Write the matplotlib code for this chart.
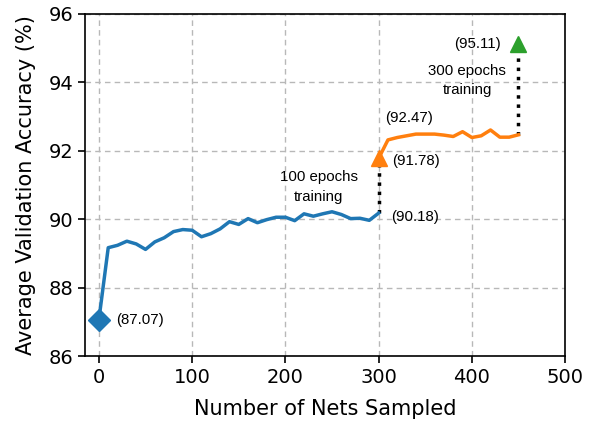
import matplotlib
matplotlib.use("Agg")
import matplotlib.pyplot as plt

blue_x = list(range(0, 301, 10))
blue_y = [87.07, 89.17, 89.24, 89.36, 89.28, 89.12, 89.34, 89.46, 89.64, 89.70,
          89.68, 89.49, 89.58, 89.72, 89.93, 89.85, 90.02, 89.90, 89.99, 90.06,
          90.06, 89.96, 90.16, 90.09, 90.16, 90.22, 90.14, 90.02, 90.03, 89.97,
          90.18]
orange_x = list(range(300, 451, 10))
orange_y = [91.78, 92.32, 92.39, 92.44, 92.49, 92.49, 92.49, 92.46, 92.42, 92.56,
            92.39, 92.44, 92.61, 92.40, 92.40, 92.47]
final_x = 450
final_y = 95.11

xticks = [0, 100, 200, 300, 400, 500]
yticks = [86, 88, 90, 92, 94, 96]

blue = "#1f77b4"
orange = "#ff7f0e"
green = "#2ca02c"

fig = plt.figure(figsize=(5.98, 4.24), dpi=100)
ax = fig.add_axes([0.142, 0.160, 0.803, 0.807])

ax.plot(blue_x, blue_y, color=blue, lw=2.5, zorder=3)
ax.plot(orange_x, orange_y, color=orange, lw=2.5, zorder=3)
ax.plot([blue_x[-1], orange_x[0]], [blue_y[-1], orange_y[0]], color="black", lw=2.5, ls=":", zorder=2)
ax.plot([orange_x[-1], final_x], [orange_y[-1], final_y], color="black", lw=2.5, ls=":", zorder=2)

ax.plot([blue_x[0]], [blue_y[0]], marker="D", color=blue, ms=11, zorder=4, clip_on=False)
ax.plot([orange_x[0]], [orange_y[0]], marker="^", color=orange, ms=11, zorder=4)
ax.plot([final_x], [final_y], marker="^", color=green, ms=11, zorder=4)

af = dict(family=["Liberation Sans", "DejaVu Sans"], fontsize=10.8)
ax.text(19, blue_y[0], f"({blue_y[0]:.2f})", ha="left", va="center", **af)
ax.text(313, 90.06, f"({blue_y[-1]:.2f})", ha="left", va="center", **af)
ax.text(314, 91.70, f"({orange_y[0]:.2f})", ha="left", va="center", **af)
ax.text(333, 92.96, f"({orange_y[-1]:.2f})", ha="center", va="center", **af)
ax.text(431, 95.11, f"({final_y:.2f})", ha="right", va="center", **af)
ax.text(236, 90.95, "100 epochs\ntraining", ha="center", va="center", linespacing=1.5, **af)
ax.text(395, 94.05, "300 epochs\ntraining", ha="center", va="center", linespacing=1.5, **af)

ax.set_xlim(-15, 500)
ax.set_ylim(86, 96)
ax.set_xticks(xticks)
ax.set_yticks(yticks)
ax.tick_params(labelsize=14, width=1.2, length=5)
ax.set_xlabel("Number of Nets Sampled", fontsize=15, labelpad=9)
ax.set_ylabel("Average Validation Accuracy (%)", fontsize=15, labelpad=9)
ax.grid(True, ls=(0, (4, 3)), color="#b8b8b8", lw=1.0)
ax.set_axisbelow(True)
for s in ["top", "right", "left", "bottom"]:
    ax.spines[s].set_linewidth(1.2)

fig.savefig("out.png", dpi=100)
